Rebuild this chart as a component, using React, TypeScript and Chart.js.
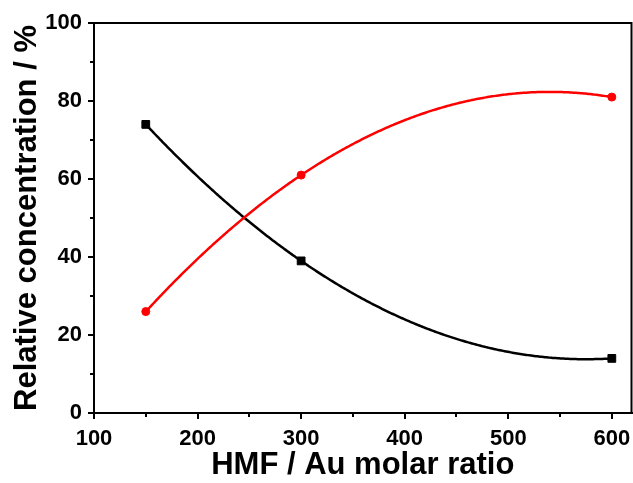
import { useEffect, useRef } from "react";
import { Chart, registerables } from "chart.js";

Chart.register(...registerables);

// ---- data ----
const ratios = [150, 300, 600];
const blackSeries = [74, 39, 14];
const redSeries = [26, 61, 81];
const xMajorTicks = [100, 200, 300, 400, 500, 600];
const xMinorTicks = [150, 250, 350, 450, 550];
const yMajorTicks = [0, 20, 40, 60, 80, 100];
const yMinorTicks = [10, 30, 50, 70, 90];
const xTitle = "HMF / Au molar ratio";
const yTitle = "Relative concentration / %";

const FONT = "'Liberation Sans', Arial, Helvetica, sans-serif";

// draws the smooth (polynomial) curve through each dataset's points via the chart scales
const curvePlugin = {
  id: "smoothCurve",
  beforeDatasetsDraw(chart: any) {
    const { ctx, chartArea, scales } = chart;
    const xs = scales.x;
    const ys = scales.y;
    ctx.save();
    ctx.beginPath();
    ctx.rect(chartArea.left, chartArea.top, chartArea.right - chartArea.left, chartArea.bottom - chartArea.top);
    ctx.clip();
    chart.data.datasets.forEach((ds: any) => {
      const pts = ds.data as { x: number; y: number }[];
      const lag = (t: number) => {
        let s = 0;
        for (let i = 0; i < pts.length; i++) {
          let p = pts[i].y;
          for (let j = 0; j < pts.length; j++) {
            if (j !== i) p *= (t - pts[j].x) / (pts[i].x - pts[j].x);
          }
          s += p;
        }
        return s;
      };
      const a = pts[0].x;
      const b = pts[pts.length - 1].x;
      const n = 300;
      ctx.beginPath();
      for (let k = 0; k <= n; k++) {
        const t = a + ((b - a) * k) / n;
        const px = xs.getPixelForValue(t);
        const py = ys.getPixelForValue(lag(t));
        if (k === 0) ctx.moveTo(px, py);
        else ctx.lineTo(px, py);
      }
      ctx.strokeStyle = ds.borderColor;
      ctx.lineWidth = 2.5;
      ctx.lineJoin = "round";
      ctx.stroke();
    });
    ctx.restore();
  },
};

// minor ticks and the top / right frame
const framePlugin = {
  id: "frameMinor",
  afterDraw(chart: any) {
    const { ctx, chartArea, scales } = chart;
    const xs = scales.x;
    const ys = scales.y;
    ctx.save();
    ctx.strokeStyle = "#000";
    ctx.lineWidth = 2;
    ctx.beginPath();
    ctx.moveTo(chartArea.left, chartArea.top);
    ctx.lineTo(chartArea.right, chartArea.top);
    ctx.lineTo(chartArea.right, chartArea.bottom);
    ctx.stroke();
    ctx.beginPath();
    xMinorTicks.forEach((v) => {
      const px = Math.round(xs.getPixelForValue(v));
      ctx.moveTo(px, chartArea.bottom);
      ctx.lineTo(px, chartArea.bottom + 4);
    });
    yMinorTicks.forEach((v) => {
      const py = Math.round(ys.getPixelForValue(v));
      ctx.moveTo(chartArea.left, py);
      ctx.lineTo(chartArea.left - 4, py);
    });
    ctx.stroke();
    ctx.restore();
  },
};

export default function App() {
  const ref = useRef<HTMLCanvasElement>(null);
  useEffect(() => {
    const chart = new Chart(ref.current!, {
      type: "scatter",
      data: {
        datasets: [
          {
            label: "black",
            data: ratios.map((x, i) => ({ x, y: blackSeries[i] })),
            borderColor: "#000000",
            backgroundColor: "#000000",
            pointStyle: "rect",
            pointRadius: 5.5,
            pointBorderWidth: 1,
            showLine: false,
          },
          {
            label: "red",
            data: ratios.map((x, i) => ({ x, y: redSeries[i] })),
            borderColor: "#ff0000",
            backgroundColor: "#ff0000",
            pointStyle: "circle",
            pointRadius: 4,
            pointBorderWidth: 1,
            showLine: false,
          },
        ],
      },
      options: {
        responsive: false,
        animation: false,
        devicePixelRatio: 1,
        layout: { autoPadding: false, padding: { top: 23, right: 1.5, left: 0, bottom: 0 } },
        plugins: { legend: { display: false }, tooltip: { enabled: false } },
        scales: {
          x: {
            type: "linear",
            min: 100,
            max: 619,
            afterBuildTicks: (s: any) => {
              s.ticks = xMajorTicks.map((v) => ({ value: v }));
            },
            afterFit: (s: any) => {
              s.height = 70;
              s.paddingLeft = 0;
              s.paddingRight = 0;
            },
            grid: { drawOnChartArea: false, drawTicks: true, tickLength: 6, lineWidth: 2, color: "#000" },
            border: { display: true, width: 2, color: "#000" },
            ticks: {
              color: "#000",
              padding: 7,
              maxRotation: 0,
              font: { family: FONT, size: 22, weight: "bold" },
            },
            title: {
              display: true,
              text: xTitle,
              color: "#000",
              font: { family: FONT, size: 31, weight: "bold", lineHeight: 1 },
              padding: { top: 0, bottom: 2 },
            },
          },
          y: {
            type: "linear",
            min: 0,
            max: 100,
            afterBuildTicks: (s: any) => {
              s.ticks = yMajorTicks.map((v) => ({ value: v }));
            },
            afterFit: (s: any) => {
              s.width = 94;
              s.paddingTop = 0;
              s.paddingBottom = 0;
            },
            grid: { drawOnChartArea: false, drawTicks: true, tickLength: 6, lineWidth: 2, color: "#000" },
            border: { display: true, width: 2, color: "#000" },
            ticks: {
              color: "#000",
              padding: 6,
              font: { family: FONT, size: 22, weight: "bold" },
            },
            title: {
              display: true,
              text: yTitle,
              color: "#000",
              font: { family: FONT, size: 31, weight: "bold", lineHeight: 1 },
              padding: { top: 12, bottom: 0 },
            },
          },
        },
      },
      plugins: [curvePlugin, framePlugin],
    } as any);
    return () => chart.destroy();
  }, []);
  return (
    <div style={{ position: "absolute", left: 0, top: 0, width: 633, height: 483, background: "#fff" }}>
      <canvas ref={ref} width={633} height={483} style={{ width: 633, height: 483, display: "block" }} />
    </div>
  );
}
